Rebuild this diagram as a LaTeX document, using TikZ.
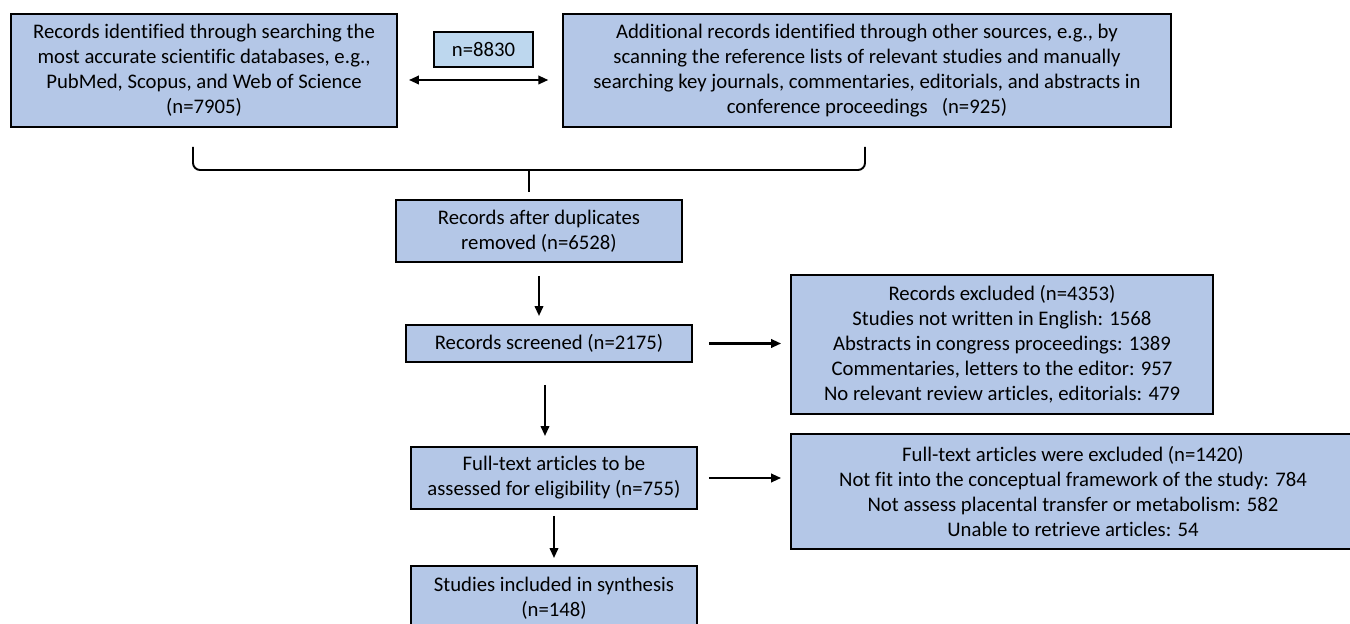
\documentclass[tikz,border=0pt]{standalone}
\usepackage{fontspec}
\setmainfont[Ligatures=CommonOff]{Carlito}
\usetikzlibrary{arrows.meta,calc}
\definecolor{boxblue}{RGB}{180,199,231}
\definecolor{countblue}{RGB}{189,215,238}

\begin{document}
\begin{tikzpicture}[x=0.02cm, y=-0.02cm,
        box/.style={draw, line width=1.1pt, fill=boxblue, align=center, inner sep=0pt,
            font=\fontsize{11.8}{14.2}\selectfont},
        arr/.style={line width=1.2pt, -{Triangle[length=0.2cm,width=0.17cm]}},
        dblarr/.style={line width=1.2pt, {Triangle[length=0.2cm,width=0.17cm]}-{Triangle[length=0.2cm,width=0.17cm]}},
        brace/.style={line width=1.1pt}]

                    \useasboundingbox (0,0) rectangle (1350,624);

                    % identification
                    \node[box, minimum width=7.72cm, minimum height=2.26cm] (db) at (204,70.5) {Records identified through searching the\\ most accurate scientific databases, e.g.,\\ PubMed, Scopus, and Web of Science\\ (n=7905)};
                    \node[box, minimum width=12.17cm, minimum height=2.26cm] (other) at (867,70.5) {Additional records identified through other sources, e.g., by\\ scanning the reference lists of relevant studies and manually\\ searching key journals, commentaries, editorials, and abstracts in\\ conference proceedings~~~(n=925)};
                    \node[box, fill=countblue, minimum width=1.98cm, minimum height=0.7cm] (total) at (483.5,49.5) {n=8830};

                    % screening
                    \node[box, minimum width=5.72cm, minimum height=1.24cm] (dup) at (539,231) {Records after duplicates\\ removed (n=6528)};
                    \node[box, minimum width=5.72cm, minimum height=0.74cm] (screen) at (549,343.5) {Records screened (n=2175)};
                    \node[box, minimum width=8.44cm, minimum height=2.78cm] (excl) at (1002,344.5) {Records excluded (n=4353)\\ Studies not written in English: 1568\\ Abstracts in congress proceedings: 1389\\ Commentaries, letters to the editor: 957\\ No relevant review articles, editorials: 479};

                    % eligibility and inclusion
                    \node[box, minimum width=5.72cm, minimum height=1.24cm] (full) at (554,478) {Full-text articles to be\\ assessed for eligibility (n=755)};
                    \node[box, minimum width=11.28cm, minimum height=2.3cm] (fullexcl) at (1073,491.5) {Full-text articles were excluded (n=1420)\\ Not fit into the conceptual framework of the study: 784\\ Not assess placental transfer or metabolism: 582\\ Unable to retrieve articles: 54};
                    \node[box, minimum width=5.72cm, minimum height=1.28cm] (incl) at (554,598) {Studies included in synthesis\\ (n=148)};

                    % brace joining the two sources
                    \coordinate (bl) at (193,147);
                    \coordinate (br) at (865,147);
                    \coordinate (bm) at (529,170);
                    \coordinate (bt) at (529,192);
                    \draw[brace, rounded corners=4pt] (bl) -- (193,170) -- (865,170) -- (br);
                    \draw[brace] (bm) -- (bt);

                    \draw[dblarr, shorten <=0.22cm, shorten >=0.27cm] ([yshift=-0.19cm]db.east) -- ([yshift=-0.19cm]db.east -| other.west);
                    \draw[arr, shorten <=0.26cm, shorten >=0.16cm] (dup.south) -- (dup.south |- screen.north);
                    \draw[arr, shorten <=0.32cm, shorten >=0.18cm] (screen.east) -- (screen.east -| excl.west);
                    \coordinate (sd) at ([xshift=-0.08cm]screen.south);
                    \draw[arr, shorten <=0.44cm, shorten >=0.2cm] (sd) -- (sd |- full.north);
                    \draw[arr, shorten <=0.22cm, shorten >=0.18cm] (full.east) -- (full.east -| fullexcl.west);
                    \draw[arr, shorten <=0.12cm, shorten >=0.14cm] (full.south) -- (incl.north);

                \end{tikzpicture}
\end{document}
